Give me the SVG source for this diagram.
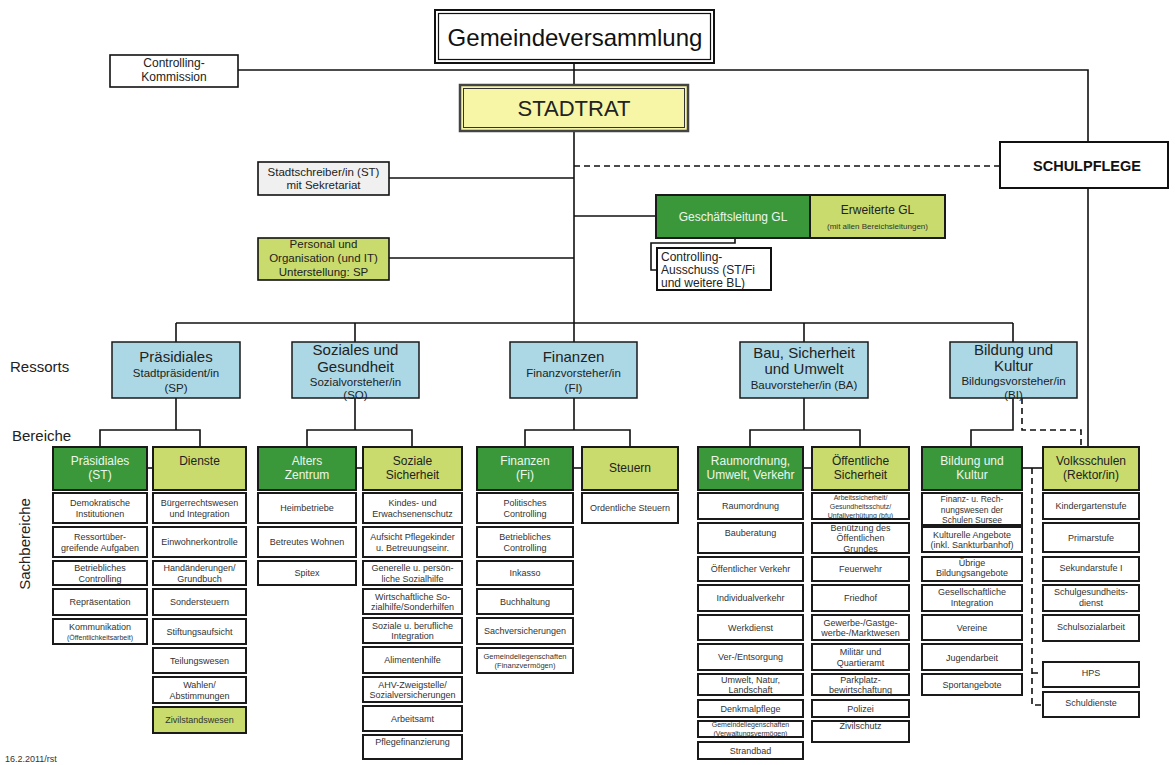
<svg xmlns="http://www.w3.org/2000/svg" width="1175" height="765" viewBox="0 0 1175 765">
<style>
text{font-family:"Liberation Sans",Arial,sans-serif;text-anchor:middle}
.b{fill:#fff;stroke:#1a1a1a;stroke-width:2}
.dk{fill:#3a983a;stroke:#1a1a1a;stroke-width:2}
.lt{fill:#c8db6c;stroke:#1a1a1a;stroke-width:2}
.bl{fill:#acd8e6;stroke:#1a1a1a;stroke-width:1.5}
.s{font-size:9px;fill:#333}
.xs{font-size:7px;fill:#333}
.h{font-size:12px;fill:#222}
.hw{font-size:12px;fill:#eef6ee}
.rt{font-size:15px;fill:#222}
.rs{font-size:11.5px;fill:#222}
.lab{font-size:15px;fill:#222;text-anchor:start}
.c line,.c path{stroke:#111;stroke-width:1.6;fill:none}
.c .d{stroke-dasharray:6 4}
</style>
<rect width="1175" height="765" fill="#fff"/>
<g class="c" id="connectors">
<line x1="574" y1="63" x2="574" y2="85"/>
<line x1="238" y1="70" x2="574" y2="70"/>
<path d="M574 70 H1088 V142"/>
<line x1="574" y1="131" x2="574" y2="342"/>
<line class="d" x1="574" y1="166" x2="1000" y2="166"/>
<line x1="389" y1="178" x2="574" y2="178"/>
<line x1="389" y1="258" x2="574" y2="258"/>
<line x1="574" y1="216" x2="656" y2="216"/>
<path d="M735 238 V243 H651 V270 H657"/>
<line x1="176" y1="323" x2="1013" y2="323"/>
<line x1="176" y1="323" x2="176" y2="342"/>
<line x1="355" y1="323" x2="355" y2="342"/>
<line x1="804" y1="323" x2="804" y2="342"/>
<line x1="1013" y1="323" x2="1013" y2="342"/>
<path d="M176 398 V430 M100 447 V430 H200 V447"/>
<path d="M355 398 V430 M307 447 V430 H412 V447"/>
<path d="M574 398 V430 M525 447 V430 H630 V447"/>
<path d="M804 398 V430 M750 447 V430 H860 V447"/>
<path d="M1013 398 V430 H971 V447"/>
<path class="d" d="M1022 398 V430 H1081 V447"/>
<line x1="1088" y1="188" x2="1088" y2="447"/>
<line x1="147" y1="468" x2="153" y2="468"/>
<line x1="356" y1="468" x2="363" y2="468"/>
<line x1="573" y1="468" x2="582" y2="468"/>
<line x1="803" y1="468" x2="812" y2="468"/>
<line x1="1022" y1="468" x2="1043" y2="468"/>
<path class="d" d="M1032 468 V705 H1043 M1032 673 H1043"/>
</g>

<g id="gemeindeversammlung">
<rect x="435" y="10" width="279" height="53" fill="#fff" stroke="#111" stroke-width="2"/>
<rect x="438.5" y="13.5" width="272" height="46" fill="none" stroke="#111" stroke-width="1.2"/>
<text x="575" y="46" font-size="24" fill="#111">Gemeindeversammlung</text>
</g>
<g id="controlling-kommission">
<rect x="110" y="55" width="128" height="32" fill="#fff" stroke="#111" stroke-width="1.6"/>
<text x="174" y="67" class="h">Controlling-</text>
<text x="174" y="81" class="h">Kommission</text>
</g>
<g id="stadtrat">
<rect x="460" y="85" width="228" height="46" fill="#f6f6a6" stroke="#444" stroke-width="2.5"/>
<rect x="463.5" y="88.5" width="221" height="39" fill="none" stroke="#333" stroke-width="1"/>
<text x="574" y="116" font-size="22" fill="#222">STADTRAT</text>
</g>
<g id="schulpflege">
<rect x="1000" y="142" width="168" height="46" fill="#fff" stroke="#111" stroke-width="2"/>
<text x="1087" y="171" font-size="14.5" font-weight="bold" fill="#111">SCHULPFLEGE</text>
</g>
<g id="stadtschreiber">
<rect x="258" y="162" width="131" height="33" fill="#f0f0f0" stroke="#111" stroke-width="1.6"/>
<text x="323.5" y="176" class="rs">Stadtschreiber/in (ST)</text>
<text x="323.5" y="189" class="rs">mit Sekretariat</text>
</g>
<g id="personal">
<rect x="258" y="238" width="131" height="42" fill="#c8db6c" stroke="#111" stroke-width="1.6"/>
<text x="323.5" y="248" class="rs">Personal und</text>
<text x="323.5" y="262" class="rs">Organisation (und IT)</text>
<text x="323.5" y="276" class="rs">Unterstellung: SP</text>
</g>
<g id="geschaeftsleitung">
<rect x="656" y="195" width="154" height="43" class="dk"/>
<text x="733" y="221" class="hw">Geschäftsleitung GL</text>
</g>
<g id="erweiterte-gl">
<rect x="810" y="195" width="135" height="43" class="lt"/>
<text x="877.5" y="214" class="h">Erweiterte GL</text>
<text x="877.5" y="229" font-size="8" fill="#333">(mit allen Bereichsleitungen)</text>
</g>
<g id="controlling-ausschuss">
<rect x="657" y="248" width="114" height="42" fill="#fff" stroke="#111" stroke-width="2"/>
<text x="661" y="261" class="h" style="text-anchor:start">Controlling-</text>
<text x="661" y="274" class="h" style="text-anchor:start">Ausschuss (ST/Fi</text>
<text x="661" y="287" class="h" style="text-anchor:start">und weitere BL)</text>
</g>

<g id="labels">
<text x="10" y="372" class="lab">Ressorts</text>
<text x="12" y="441" class="lab">Bereiche</text>
<text x="0" y="0" class="lab" style="text-anchor:middle" transform="translate(30 544) rotate(-90)">Sachbereiche</text>
<text x="5" y="762" font-size="9" fill="#333" style="text-anchor:start">16.2.2011/rst</text>
</g>

<g id="ressort-praesidiales">
<rect x="112" y="342" width="128" height="56" class="bl"/>
<text x="176" y="362" class="rt">Präsidiales</text>
<text x="176" y="377" class="rs">Stadtpräsident/in</text>
<text x="176" y="392" class="rs">(SP)</text>
</g>
<g id="ressort-soziales">
<rect x="292" y="342" width="127" height="56" class="bl"/>
<text x="355.5" y="355" class="rt">Soziales und</text>
<text x="355.5" y="372" class="rt">Gesundheit</text>
<text x="355.5" y="386" class="rs">Sozialvorsteher/in</text>
<text x="355.5" y="399" class="rs">(SO)</text>
</g>
<g id="ressort-finanzen">
<rect x="510" y="342" width="127" height="56" class="bl"/>
<text x="573.5" y="362" class="rt">Finanzen</text>
<text x="573.5" y="377" class="rs">Finanzvorsteher/in</text>
<text x="573.5" y="392" class="rs">(FI)</text>
</g>
<g id="ressort-bau">
<rect x="740" y="342" width="128" height="56" class="bl"/>
<text x="804" y="358" class="rt">Bau, Sicherheit</text>
<text x="804" y="374" class="rt">und Umwelt</text>
<text x="804" y="389" class="rs">Bauvorsteher/in (BA)</text>
</g>
<g id="ressort-bildung">
<rect x="950" y="342" width="127" height="56" class="bl"/>
<text x="1013.5" y="355" class="rt">Bildung und</text>
<text x="1013.5" y="371" class="rt">Kultur</text>
<text x="1013.5" y="385" class="rs">Bildungsvorsteher/in</text>
<text x="1013.5" y="399" class="rs">(BI)</text>
</g>

<g id="bereich-praesidiales"><rect x="53" y="447" width="94" height="43" class="dk"/><text x="100" y="465" class="hw">Präsidiales</text><text x="100" y="479" class="hw">(ST)</text></g>
<g id="bereich-dienste"><rect x="153" y="447" width="93" height="43" class="lt"/><text x="199.5" y="465" class="h">Dienste</text></g>
<g id="bereich-alters"><rect x="258" y="447" width="98" height="43" class="dk"/><text x="307" y="465" class="hw">Alters</text><text x="307" y="479" class="hw">Zentrum</text></g>
<g id="bereich-soziale"><rect x="363" y="447" width="99" height="43" class="lt"/><text x="412.5" y="465" class="h">Soziale</text><text x="412.5" y="479" class="h">Sicherheit</text></g>
<g id="bereich-finanzen"><rect x="477" y="447" width="96" height="43" class="dk"/><text x="525" y="465" class="hw">Finanzen</text><text x="525" y="479" class="hw">(Fi)</text></g>
<g id="bereich-steuern"><rect x="582" y="447" width="96" height="43" class="lt"/><text x="630" y="472" class="h">Steuern</text></g>
<g id="bereich-raumordnung"><rect x="698" y="447" width="105" height="43" class="dk"/><text x="750.5" y="465" class="hw">Raumordnung,</text><text x="750.5" y="479" class="hw">Umwelt, Verkehr</text></g>
<g id="bereich-sicherheit"><rect x="812" y="447" width="97" height="43" class="lt"/><text x="860.5" y="465" class="h">Öffentliche</text><text x="860.5" y="479" class="h">Sicherheit</text></g>
<g id="bereich-bildung"><rect x="922" y="447" width="100" height="43" class="dk"/><text x="972" y="465" class="hw">Bildung und</text><text x="972" y="479" class="hw">Kultur</text></g>
<g id="bereich-volksschulen"><rect x="1043" y="447" width="96" height="43" class="lt"/><text x="1091" y="465" class="h">Volksschulen</text><text x="1091" y="479" class="h">(Rektor/in)</text></g>

<g id="sb-a1"><rect x="53" y="493" width="94" height="30" class="b"/><text x="100" y="506" class="s">Demokratische</text><text x="100" y="516.5" class="s">Institutionen</text></g>
<g id="sb-a2"><rect x="53" y="527" width="94" height="30" class="b"/><text x="100" y="540" class="s">Ressortüber-</text><text x="100" y="550.5" class="s">greifende Aufgaben</text></g>
<g id="sb-a3"><rect x="53" y="561" width="94" height="24" class="b"/><text x="100" y="571" class="s">Betriebliches</text><text x="100" y="581.5" class="s">Controlling</text></g>
<g id="sb-a4"><rect x="53" y="589" width="94" height="26" class="b"/><text x="100" y="605" class="s">Repräsentation</text></g>
<g id="sb-a5"><rect x="53" y="619" width="94" height="25" class="b"/><text x="100" y="629.5" class="s">Kommunikation</text><text x="100" y="640" class="xs">(Öffentlichkeitsarbeit)</text></g>

<g id="sb-b1"><rect x="153" y="493" width="93" height="30" class="b"/><text x="199.5" y="506" class="s">Bürgerrechtswesen</text><text x="199.5" y="516.5" class="s">und Integration</text></g>
<g id="sb-b2"><rect x="153" y="527" width="93" height="30" class="b"/><text x="199.5" y="545" class="s">Einwohnerkontrolle</text></g>
<g id="sb-b3"><rect x="153" y="561" width="93" height="24" class="b"/><text x="199.5" y="571" class="s">Handänderungen/</text><text x="199.5" y="581.5" class="s">Grundbuch</text></g>
<g id="sb-b4"><rect x="153" y="589" width="93" height="26" class="b"/><text x="199.5" y="605" class="s">Sondersteuern</text></g>
<g id="sb-b5"><rect x="153" y="619" width="93" height="25" class="b"/><text x="199.5" y="634.5" class="s">Stiftungsaufsicht</text></g>
<g id="sb-b6"><rect x="153" y="648" width="93" height="25" class="b"/><text x="199.5" y="663.5" class="s">Teilungswesen</text></g>
<g id="sb-b7"><rect x="153" y="677" width="93" height="26" class="b"/><text x="199.5" y="688" class="s">Wahlen/</text><text x="199.5" y="698.5" class="s">Abstimmungen</text></g>
<g id="sb-b8"><rect x="153" y="707" width="93" height="26" class="lt"/><text x="199.5" y="723" class="s">Zivilstandswesen</text></g>

<g id="sb-c1"><rect x="258" y="493" width="98" height="30" class="b"/><text x="307" y="511" class="s">Heimbetriebe</text></g>
<g id="sb-c2"><rect x="258" y="527" width="98" height="30" class="b"/><text x="307" y="545" class="s">Betreutes Wohnen</text></g>
<g id="sb-c3"><rect x="258" y="561" width="98" height="24" class="b"/><text x="307" y="576" class="s">Spitex</text></g>

<g id="sb-d1"><rect x="363" y="493" width="99" height="30" class="b"/><text x="412.5" y="506" class="s">Kindes- und</text><text x="412.5" y="516.5" class="s">Erwachsenenschutz</text></g>
<g id="sb-d2"><rect x="363" y="527" width="99" height="30" class="b"/><text x="412.5" y="540" class="s">Aufsicht Pflegekinder</text><text x="412.5" y="550.5" class="s">u. Betreuungseinr.</text></g>
<g id="sb-d3"><rect x="363" y="561" width="99" height="24" class="b"/><text x="412.5" y="571" class="s">Generelle u. persön-</text><text x="412.5" y="581.5" class="s">liche Sozialhilfe</text></g>
<g id="sb-d4"><rect x="363" y="589" width="99" height="25" class="b"/><text x="412.5" y="599.5" class="s">Wirtschaftliche So-</text><text x="412.5" y="610" class="s">zialhilfe/Sonderhilfen</text></g>
<g id="sb-d5"><rect x="363" y="618" width="99" height="25" class="b"/><text x="412.5" y="628.5" class="s">Soziale u. berufliche</text><text x="412.5" y="639" class="s">Integration</text></g>
<g id="sb-d6"><rect x="363" y="647" width="99" height="26" class="b"/><text x="412.5" y="663" class="s">Alimentenhilfe</text></g>
<g id="sb-d7"><rect x="363" y="677" width="99" height="25" class="b"/><text x="412.5" y="687.5" class="s">AHV-Zweigstelle/</text><text x="412.5" y="698" class="s">Sozialversicherungen</text></g>
<g id="sb-d8"><rect x="363" y="706" width="99" height="25" class="b"/><text x="412.5" y="721.5" class="s">Arbeitsamt</text></g>
<g id="sb-d9"><rect x="363" y="735" width="99" height="24" class="b"/><text x="412.5" y="745" class="s">Pflegefinanzierung</text></g>

<g id="sb-e1"><rect x="477" y="493" width="96" height="30" class="b"/><text x="525" y="506" class="s">Politisches</text><text x="525" y="516.5" class="s">Controlling</text></g>
<g id="sb-e2"><rect x="477" y="527" width="96" height="30" class="b"/><text x="525" y="540" class="s">Betriebliches</text><text x="525" y="550.5" class="s">Controlling</text></g>
<g id="sb-e3"><rect x="477" y="561" width="96" height="24" class="b"/><text x="525" y="576" class="s">Inkasso</text></g>
<g id="sb-e4"><rect x="477" y="589" width="96" height="25" class="b"/><text x="525" y="604.5" class="s">Buchhaltung</text></g>
<g id="sb-e5"><rect x="477" y="618" width="96" height="26" class="b"/><text x="525" y="634" class="s">Sachversicherungen</text></g>
<g id="sb-e6"><rect x="477" y="648" width="96" height="25" class="b"/><text x="525" y="658.5" class="xs" style="font-size:7.5px">Gemeindeliegenschaften</text><text x="525" y="668" class="xs" style="font-size:7.5px">(Finanzvermögen)</text></g>

<g id="sb-f1"><rect x="582" y="493" width="96" height="30" class="b"/><text x="630" y="511" class="s">Ordentliche Steuern</text></g>

<g id="sb-g1"><rect x="698" y="493" width="105" height="26" class="b"/><text x="750.5" y="509" class="s">Raumordnung</text></g>
<g id="sb-g2"><rect x="698" y="523" width="105" height="30" class="b"/><text x="750.5" y="535.5" class="s">Bauberatung</text></g>
<g id="sb-g3"><rect x="698" y="557" width="105" height="24" class="b"/><text x="750.5" y="572" class="s">Öffentlicher Verkehr</text></g>
<g id="sb-g4"><rect x="698" y="585" width="105" height="26" class="b"/><text x="750.5" y="601" class="s">Individualverkehr</text></g>
<g id="sb-g5"><rect x="698" y="615" width="105" height="25" class="b"/><text x="750.5" y="630.5" class="s">Werkdienst</text></g>
<g id="sb-g6"><rect x="698" y="644" width="105" height="26" class="b"/><text x="750.5" y="660" class="s">Ver-/Entsorgung</text></g>
<g id="sb-g7"><rect x="698" y="674" width="105" height="21" class="b"/><text x="750.5" y="682.5" class="s">Umwelt, Natur,</text><text x="750.5" y="692.5" class="s">Landschaft</text></g>
<g id="sb-g8"><rect x="698" y="700" width="105" height="17" class="b"/><text x="750.5" y="711.5" class="s">Denkmalpflege</text></g>
<g id="sb-g9"><rect x="698" y="721" width="105" height="16" class="b"/><text x="750.5" y="726.5" class="xs">Gemeindeliegenschaften</text><text x="750.5" y="735.5" class="xs">(Verwaltungsvermögen)</text></g>
<g id="sb-g10"><rect x="698" y="742" width="105" height="17" class="b"/><text x="750.5" y="753.5" class="s">Strandbad</text></g>

<g id="sb-h1"><rect x="812" y="493" width="97" height="26" class="b"/><text x="860.5" y="499.5" class="xs">Arbeitssicherheit/</text><text x="860.5" y="508.5" class="xs">Gesundheitsschutz/</text><text x="860.5" y="517.5" class="xs">Unfallverhütung (bfu)</text></g>
<g id="sb-h2"><rect x="812" y="523" width="97" height="30" class="b"/><text x="860.5" y="530.5" class="s">Benützung des</text><text x="860.5" y="541" class="s">Öffentlichen</text><text x="860.5" y="551.5" class="s">Grundes</text></g>
<g id="sb-h3"><rect x="812" y="557" width="97" height="24" class="b"/><text x="860.5" y="572" class="s">Feuerwehr</text></g>
<g id="sb-h4"><rect x="812" y="585" width="97" height="26" class="b"/><text x="860.5" y="601" class="s">Friedhof</text></g>
<g id="sb-h5"><rect x="812" y="615" width="97" height="25" class="b"/><text x="860.5" y="625.5" class="s">Gewerbe-/Gastge-</text><text x="860.5" y="636" class="s">werbe-/Marktwesen</text></g>
<g id="sb-h6"><rect x="812" y="644" width="97" height="26" class="b"/><text x="860.5" y="655" class="s">Militär und</text><text x="860.5" y="665.5" class="s">Quartieramt</text></g>
<g id="sb-h7"><rect x="812" y="674" width="97" height="21" class="b"/><text x="860.5" y="682.5" class="s">Parkplatz-</text><text x="860.5" y="692.5" class="s">bewirtschaftung</text></g>
<g id="sb-h8"><rect x="812" y="700" width="97" height="17" class="b"/><text x="860.5" y="711.5" class="s">Polizei</text></g>
<g id="sb-h9"><rect x="812" y="721" width="97" height="21" class="b"/><text x="860.5" y="729" class="s">Zivilschutz</text></g>

<g id="sb-i1"><rect x="922" y="493" width="100" height="32" class="b"/><text x="972" y="502" class="s" style="font-size:8.5px">Finanz- u. Rech-</text><text x="972" y="513" class="s" style="font-size:8.5px">nungswesen der</text><text x="972" y="523" class="s" style="font-size:8.5px">Schulen Sursee</text></g>
<g id="sb-i2"><rect x="922" y="527" width="100" height="25" class="b"/><text x="972" y="538" class="s">Kulturelle Angebote</text><text x="972" y="548" class="s">(inkl. Sankturbanhof)</text></g>
<g id="sb-i3"><rect x="922" y="557" width="100" height="24" class="b"/><text x="972" y="566" class="s">Übrige</text><text x="972" y="576" class="s">Bildungsangebote</text></g>
<g id="sb-i4"><rect x="922" y="585" width="100" height="26" class="b"/><text x="972" y="595" class="s">Gesellschaftliche</text><text x="972" y="606" class="s">Integration</text></g>
<g id="sb-i5"><rect x="922" y="615" width="100" height="25" class="b"/><text x="972" y="630.5" class="s">Vereine</text></g>
<g id="sb-i6"><rect x="922" y="644" width="100" height="26" class="b"/><text x="972" y="661" class="s">Jugendarbeit</text></g>
<g id="sb-i7"><rect x="922" y="674" width="100" height="21" class="b"/><text x="972" y="688" class="s">Sportangebote</text></g>

<g id="sb-j1"><rect x="1043" y="493" width="96" height="26" class="b"/><text x="1091" y="509" class="s">Kindergartenstufe</text></g>
<g id="sb-j2"><rect x="1043" y="523" width="96" height="29" class="b"/><text x="1091" y="541" class="s">Primarstufe</text></g>
<g id="sb-j3"><rect x="1043" y="557" width="96" height="24" class="b"/><text x="1091" y="571" class="s">Sekundarstufe I</text></g>
<g id="sb-j4"><rect x="1043" y="585" width="96" height="26" class="b"/><text x="1091" y="595" class="s">Schulgesundheits-</text><text x="1091" y="606" class="s">dienst</text></g>
<g id="sb-j5"><rect x="1043" y="615" width="96" height="26" class="b"/><text x="1091" y="630" class="s">Schulsozialarbeit</text></g>
<g id="sb-j6"><rect x="1043" y="662" width="96" height="25" class="b"/><text x="1091" y="676" class="s">HPS</text></g>
<g id="sb-j7"><rect x="1043" y="692" width="96" height="25" class="b"/><text x="1091" y="706" class="s">Schuldienste</text></g>
</svg>
